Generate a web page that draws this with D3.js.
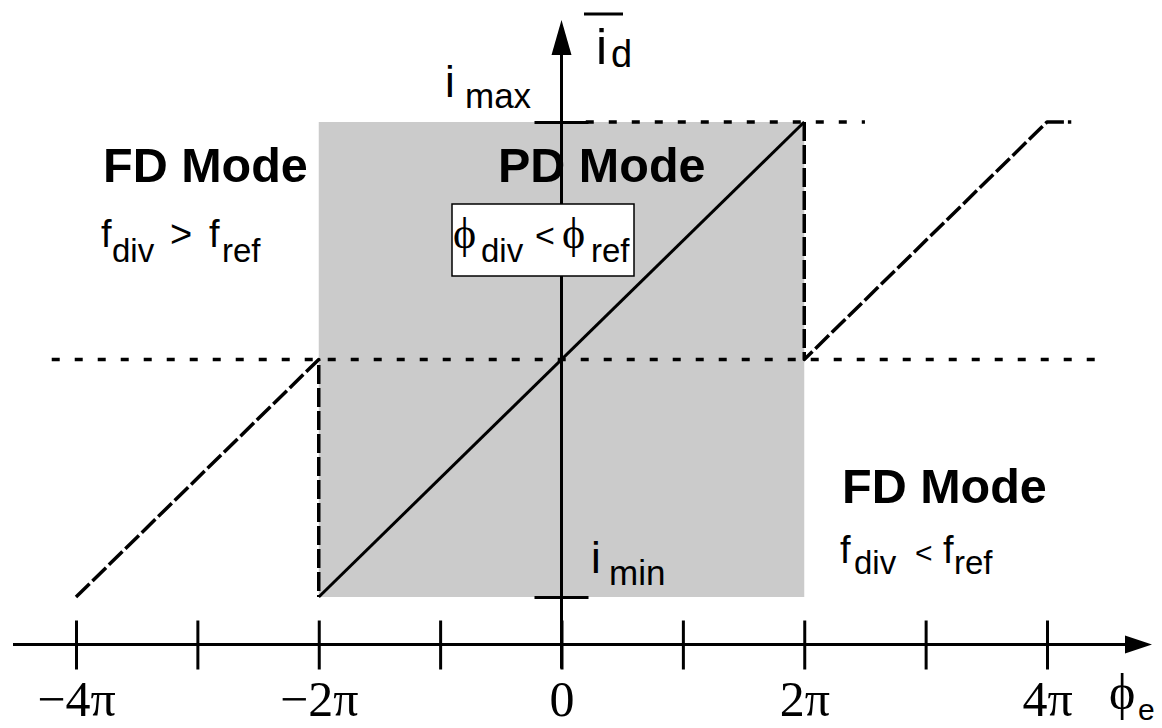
<!DOCTYPE html>
<html>
<head>
<meta charset="utf-8">
<script src="https://cdn.jsdelivr.net/npm/d3@7"></script>
<style>
  body { margin: 0; background: #fff; }
  svg { display: block; }
  .sans { font-family: Arial, "Liberation Sans", sans-serif; }
  .serif { font-family: "Liberation Serif", "Times New Roman", serif; }
</style>
</head>
<body>
<svg id="chart" width="1162" height="728"></svg>
<script>
// phase error in units of pi, average current normalised to i_max = 1
const phaseTicks = [-4, -3, -2, -1, 0, 1, 2, 3, 4];
const phaseLabels = ["\u22124\u03c0", "", "\u22122\u03c0", "", "0", "", "2\u03c0", "", "4\u03c0"];
const currentTicks = [-1, 1];
const pdRange = [-2, 2];
const pdCurve = [[-2, -1], [2, 1]];
const fdLeft = [[-4, -1], [-2, 0], [-2, -1]];
const fdRight = [[2, 1], [2, 0], [4, 1], [4.2, 1]];
const zeroLine = [[-4.2, 0], [4.4, 0]];
const maxLine = [[0.2, 1], [2.5, 1]];

const svg = d3.select("#chart");

const x = d3.scaleLinear().domain([-4, 4]).range([76, 1047]);
const y = d3.scaleLinear().domain([-1, 1]).range([597, 122]);
const axisY = y(-1.2);
const line = d3.line().x(d => x(d[0])).y(d => y(d[1]));

// PD region
svg.append("rect")
  .attr("x", x(pdRange[0]))
  .attr("y", y(1))
  .attr("width", x(pdRange[1]) - x(pdRange[0]))
  .attr("height", y(-1) - y(1))
  .attr("fill", "#cbcbcb");

// dotted reference levels
svg.selectAll(".ref")
  .data([zeroLine, maxLine])
  .enter()
  .append("path")
  .attr("d", line)
  .attr("fill", "none")
  .attr("stroke", "#000")
  .attr("stroke-width", 3.5)
  .attr("stroke-dasharray", "8,15");

// frequency detector characteristic
svg.selectAll(".fd")
  .data([fdLeft, fdRight])
  .enter()
  .append("path")
  .attr("d", line)
  .attr("fill", "none")
  .attr("stroke", "#000")
  .attr("stroke-width", 3.5)
  .attr("stroke-linejoin", "round")
  .attr("stroke-dasharray", "19,4");

// phase detector characteristic
svg.append("path")
  .datum(pdCurve)
  .attr("d", line)
  .attr("fill", "none")
  .attr("stroke", "#000")
  .attr("stroke-width", 3);

// x axis
const gx = svg.append("g")
  .attr("transform", "translate(0," + axisY + ")")
  .call(d3.axisBottom(x).tickValues(phaseTicks).tickFormat((d, i) => phaseLabels[i]).tickSize(25));
gx.select(".domain").remove();
gx.selectAll(".tick line").attr("y1", -24).attr("stroke-width", 3);
gx.selectAll(".tick text")
  .attr("class", "serif")
  .attr("y", 71)
  .attr("dy", 0)
  .attr("font-size", 50)
  .attr("fill", "#000");

svg.append("line")
  .attr("x1", 13).attr("x2", 1125)
  .attr("y1", axisY).attr("y2", axisY)
  .attr("stroke", "#000").attr("stroke-width", 3);
svg.append("path")
  .attr("d", d3.line()([[1125, axisY - 9], [1152, axisY], [1125, axisY + 9]]))
  .attr("fill", "#000");

// y axis
const gy = svg.append("g")
  .attr("transform", "translate(" + x(0) + ",0)")
  .call(d3.axisLeft(y).tickValues(currentTicks).tickFormat("").tickSize(27));
gy.select(".domain").remove();
gy.selectAll(".tick line").attr("x2", 27).attr("x1", -27).attr("stroke-width", 3);

svg.append("line")
  .attr("x1", x(0)).attr("x2", x(0))
  .attr("y1", axisY + 24).attr("y2", 52)
  .attr("stroke", "#000").attr("stroke-width", 3);
svg.append("path")
  .attr("d", d3.line()([[x(0) - 10, 55], [x(0), 20], [x(0) + 10, 55]]))
  .attr("fill", "#000");

// labels
function sub(xp, yp, main, s, opts) {
  const t = svg.append("text")
    .attr("class", opts.cls || "sans")
    .attr("x", xp).attr("y", yp)
    .attr("font-size", opts.size);
  t.append("tspan").text(main);
  t.append("tspan")
    .attr("class", "sans")
    .attr("x", opts.sx)
    .attr("y", opts.sy)
    .attr("font-size", opts.sub)
    .text(s);
  return t;
}

// average current label with bar
sub(596, 64, "i", "d", { size: 50, sub: 38, sx: 611, sy: 67 });
svg.append("line")
  .attr("x1", 584).attr("x2", 623).attr("y1", 14).attr("y2", 14)
  .attr("stroke", "#000").attr("stroke-width", 3);

sub(445, 97, "i", "max", { size: 44, sub: 35, sx: 465, sy: 108 });
sub(591, 573, "i", "min", { size: 44, sub: 35, sx: 609, sy: 585 });

sub(1109, 709, "\u03d5", "e", { cls: "serif", size: 50, sub: 30, sx: 1138, sy: 720 });

// mode labels
[["FD Mode", 103, 182], ["PD Mode", 498, 182], ["FD Mode", 842, 503]].forEach(d => {
  svg.append("text")
    .attr("class", "sans")
    .attr("x", d[1]).attr("y", d[2])
    .attr("font-size", 48.5)
    .attr("font-weight", "bold")
    .text(d[0]);
});

function relation(xs, yb, ys, sym, size, subSize, symSize) {
  const t = svg.append("text").attr("class", "sans").attr("font-size", size);
  t.append("tspan").attr("x", xs[0]).attr("y", yb).text("f");
  t.append("tspan").attr("x", xs[1]).attr("y", ys).attr("font-size", subSize).text("div");
  t.append("tspan").attr("x", xs[2]).attr("y", yb).attr("font-size", symSize).text(sym);
  t.append("tspan").attr("x", xs[3]).attr("y", yb).text("f");
  t.append("tspan").attr("x", xs[4]).attr("y", ys).attr("font-size", subSize).text("ref");
}
relation([101, 112, 170, 209, 222], 247, 262, ">", 38, 33, 38);
relation([840, 854, 915, 943, 954], 563, 574, "<", 38, 33, 30);

// phase relation box
svg.append("rect")
  .attr("x", 452).attr("y", 204)
  .attr("width", 182).attr("height", 72)
  .attr("fill", "#fff").attr("stroke", "#000").attr("stroke-width", 1.5);
const pt = svg.append("text").attr("font-size", 44);
pt.append("tspan").attr("class", "serif").attr("x", 453).attr("y", 248).text("\u03d5");
pt.append("tspan").attr("class", "sans").attr("x", 481).attr("y", 262).attr("font-size", 33).text("div");
pt.append("tspan").attr("class", "sans").attr("x", 535).attr("y", 247).attr("font-size", 34).text("<");
pt.append("tspan").attr("class", "serif").attr("x", 562).attr("y", 248).text("\u03d5");
pt.append("tspan").attr("class", "sans").attr("x", 591).attr("y", 262).attr("font-size", 33).text("ref");
</script>
</body>
</html>
